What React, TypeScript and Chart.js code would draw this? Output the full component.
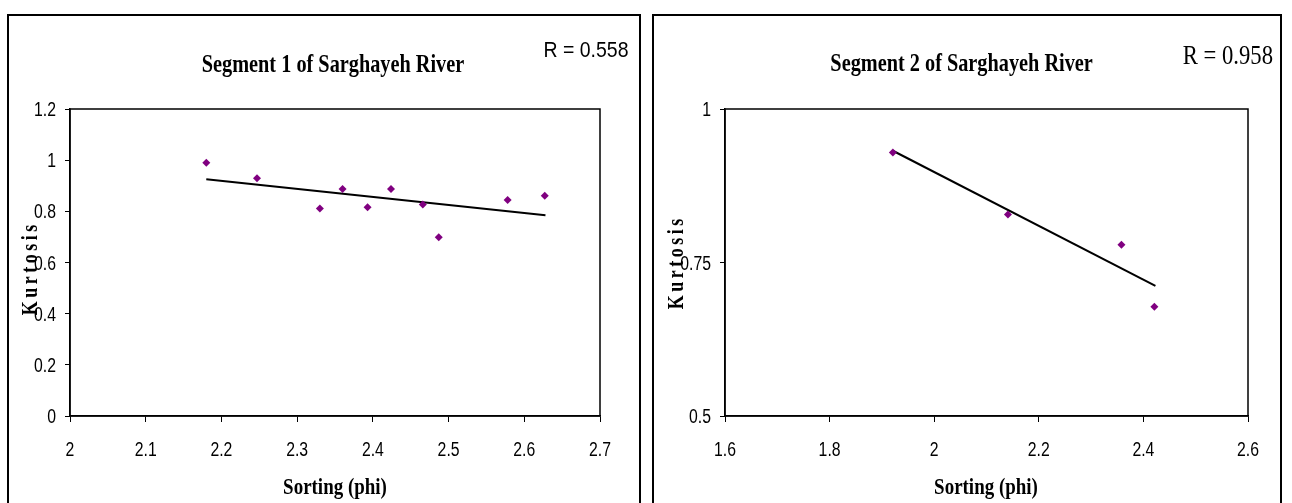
import React, { useEffect, useRef } from 'react';
import { Chart, registerables } from 'chart.js';

Chart.register(...registerables);

// ---------- data ----------
const seg1Sorting = [2.18, 2.247, 2.33, 2.36, 2.393, 2.424, 2.466, 2.487, 2.578, 2.627];
const seg1Kurtosis = [0.99, 0.929, 0.811, 0.887, 0.816, 0.887, 0.827, 0.699, 0.844, 0.861];
const seg1TrendX = [2.18, 2.628];
const seg1TrendY = [0.925, 0.785];
const seg1XTicks = [2, 2.1, 2.2, 2.3, 2.4, 2.5, 2.6, 2.7];
const seg1YTicks = [0, 0.2, 0.4, 0.6, 0.8, 1, 1.2];

const seg2Sorting = [1.921, 2.141, 2.358, 2.421];
const seg2Kurtosis = [0.929, 0.828, 0.779, 0.678];
const seg2TrendX = [1.921, 2.423];
const seg2TrendY = [0.932, 0.712];
const seg2XTicks = [1.6, 1.8, 2, 2.2, 2.4, 2.6];
const seg2YTicks = [0.5, 0.75, 1];

const seg1Title = 'Segment 1 of Sarghayeh River';
const seg2Title = 'Segment 2 of Sarghayeh River';
const seg1R = 'R = 0.558';
const seg2R = 'R = 0.958';
const xTitle = 'Sorting (phi)';
const yTitle = 'Kurtosis';

// ---------- helpers ----------
type TextSpec = { text: string; x: number; y: number; font: string; sx: number; align: CanvasTextAlign };

function drawText(ctx: CanvasRenderingContext2D, t: TextSpec) {
  ctx.save();
  ctx.translate(t.x, t.y);
  ctx.scale(t.sx, 1);
  ctx.font = t.font;
  ctx.fillStyle = '#000';
  ctx.textAlign = t.align;
  ctx.textBaseline = 'alphabetic';
  ctx.fillText(t.text, 0, 0);
  ctx.restore();
}

function drawRotated(ctx: CanvasRenderingContext2D, text: string, x: number, y: number, font: string, sy: number, spacing: number) {
  ctx.save();
  ctx.translate(x, y);
  ctx.rotate(-Math.PI / 2);
  ctx.scale(1, sy);
  ctx.font = font;
  ctx.fillStyle = '#000';
  (ctx as any).letterSpacing = spacing + 'px';
  ctx.textAlign = 'center';
  ctx.textBaseline = 'alphabetic';
  ctx.fillText(text, spacing / 2, 0);
  ctx.restore();
}

const TITLE_FONT = "bold 26px 'Liberation Serif', 'Times New Roman', serif";
const AXIS_TITLE_FONT = "bold 24px 'Liberation Serif', 'Times New Roman', serif";
const YTITLE_FONT = "bold 18px 'Liberation Serif', 'Times New Roman', serif";
const TICK_FONT = "19.5px 'Liberation Sans', Arial, sans-serif";
const TICK_SX = 0.81;

interface PanelProps {
  left: number;
  outerWidth: number;
  canvasW: number;
  canvasH: number;
  area: { left: number; right: number; top: number; bottom: number };
  xs: number[];
  ys: number[];
  trendX: number[];
  trendY: number[];
  xTicks: number[];
  yTicks: number[];
  texts: TextSpec[];
  yTitlePos: { x: number; y: number };
}

function Panel(p: PanelProps) {
  const ref = useRef<HTMLCanvasElement | null>(null);

  useEffect(() => {
    if (!ref.current) return;
    const xAxisH = 60;
    const framePlugin = {
      id: 'frame',
      afterDraw(chart: any) {
        const { ctx, chartArea: a } = chart;
        ctx.save();
        ctx.strokeStyle = '#000';
        ctx.lineWidth = 1.5;
        ctx.strokeRect(a.left, a.top, a.right - a.left, a.bottom - a.top);
        ctx.restore();
        // tick labels through the chart's own scales
        const xs = chart.scales.x;
        const ys = chart.scales.y;
        xs.ticks.forEach((t: any) => {
          drawText(ctx, {
            text: String(t.value),
            x: xs.getPixelForValue(t.value),
            y: a.bottom + 40,
            font: TICK_FONT,
            sx: TICK_SX,
            align: 'center',
          });
        });
        ys.ticks.forEach((t: any) => {
          drawText(ctx, {
            text: String(t.value),
            x: a.left - 14,
            y: ys.getPixelForValue(t.value) + 7,
            font: TICK_FONT,
            sx: TICK_SX,
            align: 'right',
          });
        });
        p.texts.forEach((t) => drawText(ctx, t));
        drawRotated(ctx, yTitle, p.yTitlePos.x, p.yTitlePos.y, YTITLE_FONT, 1.3, 3.5);
      },
    };
    const chart = new Chart(ref.current, {
      type: 'scatter',
      data: {
        datasets: [
          {
            type: 'scatter',
            data: p.xs.map((x, i) => ({ x, y: p.ys[i] })),
            backgroundColor: '#800080',
            borderColor: '#800080',
            pointStyle: 'rectRot',
            pointRadius: 4,
            pointBorderWidth: 0,
          },
          {
            type: 'line',
            data: p.trendX.map((x, i) => ({ x, y: p.trendY[i] })),
            borderColor: '#000',
            borderWidth: 2,
            pointRadius: 0,
            showLine: true,
            fill: false,
          } as any,
        ],
      },
      options: {
        animation: false,
        responsive: false,
        maintainAspectRatio: false,
        layout: {
          padding: {
            left: 0,
            top: p.area.top,
            right: p.canvasW - p.area.right,
            bottom: p.canvasH - p.area.bottom - xAxisH,
          },
        },
        plugins: {
          legend: { display: false },
          title: { display: false },
          tooltip: { enabled: false },
        },
        scales: {
          x: {
            type: 'linear',
            min: p.xTicks[0],
            max: p.xTicks[p.xTicks.length - 1],
            afterBuildTicks: (s: any) => {
              s.ticks = p.xTicks.map((v) => ({ value: v }));
            },
            afterFit: (s: any) => {
              s.height = xAxisH;
            },
            ticks: { display: false },
            grid: { drawOnChartArea: false, drawTicks: true, tickLength: 6, color: '#000', lineWidth: 1 },
            border: { display: true, color: '#000', width: 1.5 },
          },
          y: {
            type: 'linear',
            min: p.yTicks[0],
            max: p.yTicks[p.yTicks.length - 1],
            afterBuildTicks: (s: any) => {
              s.ticks = p.yTicks.map((v) => ({ value: v }));
            },
            afterFit: (s: any) => {
              s.width = p.area.left;
            },
            ticks: { display: false },
            grid: { drawOnChartArea: false, drawTicks: true, tickLength: 5, color: '#000', lineWidth: 1 },
            border: { display: true, color: '#000', width: 1.5 },
          },
        },
      } as any,
      plugins: [framePlugin],
    });
    return () => chart.destroy();
  }, []);

  return (
    <div
      style={{
        position: 'absolute',
        left: p.left,
        top: 14,
        width: p.outerWidth - 4,
        height: 600,
        border: '2px solid #000',
        background: '#fff',
      }}
    >
      <canvas
        ref={ref}
        width={p.canvasW}
        height={p.canvasH}
        style={{ position: 'absolute', left: 0, top: 0, width: p.canvasW, height: p.canvasH }}
      />
    </div>
  );
}

export default function App() {
  const canvasH = 487;
  return (
    <div
      style={{
        position: 'absolute',
        left: 0,
        top: 0,
        width: 1292,
        height: 503,
        overflow: 'hidden',
        background: '#fff',
      }}
    >
      <Panel
        left={7}
        outerWidth={634}
        canvasW={630}
        canvasH={canvasH}
        area={{ left: 61, right: 591, top: 93, bottom: 400 }}
        xs={seg1Sorting}
        ys={seg1Kurtosis}
        trendX={seg1TrendX}
        trendY={seg1TrendY}
        xTicks={seg1XTicks}
        yTicks={seg1YTicks}
        texts={[
          { text: seg1Title, x: 324, y: 55.5, font: TITLE_FONT, sx: 0.78, align: 'center' },
          { text: seg1R, x: 619.5, y: 41, font: "22px 'Liberation Sans', Arial, sans-serif", sx: 0.885, align: 'right' },
          { text: xTitle, x: 326, y: 478, font: AXIS_TITLE_FONT, sx: 0.79, align: 'center' },
        ]}
        yTitlePos={{ x: 28, y: 254 }}
      />
      <Panel
        left={652}
        outerWidth={630}
        canvasW={626}
        canvasH={canvasH}
        area={{ left: 71, right: 594, top: 93, bottom: 400 }}
        xs={seg2Sorting}
        ys={seg2Kurtosis}
        trendX={seg2TrendX}
        trendY={seg2TrendY}
        xTicks={seg2XTicks}
        yTicks={seg2YTicks}
        texts={[
          { text: seg2Title, x: 307.6, y: 55, font: TITLE_FONT, sx: 0.78, align: 'center' },
          { text: seg2R, x: 619, y: 48, font: "28px 'Liberation Serif', 'Times New Roman', serif", sx: 0.81, align: 'right' },
          { text: xTitle, x: 332, y: 478, font: AXIS_TITLE_FONT, sx: 0.79, align: 'center' },
        ]}
        yTitlePos={{ x: 29, y: 248 }}
      />
    </div>
  );
}
